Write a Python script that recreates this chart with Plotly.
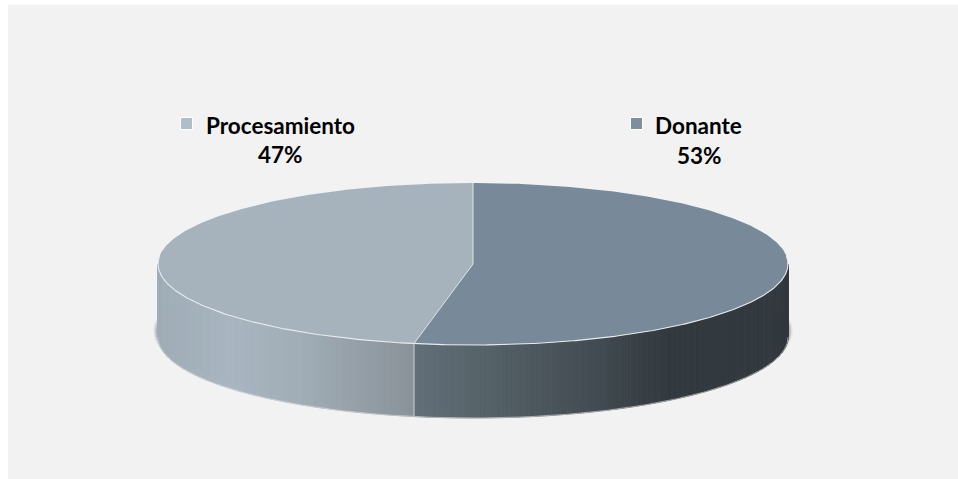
import numpy as np
import plotly.graph_objects as go

categories = ["Donante", "Procesamiento"]
values = [53, 47]
top_colors = ["#788a99", "#a6b3bc"]
marker_colors = ["#7d8f9e", "#b0bec9"]

W, H = 958, 479
CX, CY, RX, RY, DEPTH = 473, 264, 315, 81, 73
# axes: one data unit = RX px horizontally, RY px vertically, origin at pie centre
x_range = [-CX / RX, (W - CX) / RX]
y_range = [(CY - H) / RY, CY / RY]
D = DEPTH / RY

side_stops = {
    "Donante": [(0.0, "#626f79"), (0.18, "#566369"), (0.5, "#414a50"), (0.68, "#32393f"), (1.0, "#32393f")],
    "Procesamiento": [(0.0, "#9fadb7"), (0.28, "#a9b6c1"), (0.55, "#a1aeb7"), (1.0, "#8a9299")],
}


def hex2rgb(h):
    return np.array([int(h[i:i + 2], 16) for i in (1, 3, 5)], float)


def grad(stops, t):
    ts = [s[0] for s in stops]
    rgb = [hex2rgb(s[1]) for s in stops]
    c = [np.interp(t, ts, [v[i] for v in rgb]) for i in range(3)]
    return "rgb(%d,%d,%d)" % tuple(round(v) for v in c)


def pt(deg):
    r = np.radians(deg)
    return np.sin(r), np.cos(r)


fig = go.Figure()

# soft shadow under the disc
a = np.radians(np.linspace(0, 360, 361))
for grow, alpha in [(5, 0.05), (4, 0.08), (3, 0.12), (2, 0.16), (1, 0.2)]:
    sx = (RX + grow) / RX * np.sin(a)
    sy = (RY + grow * 0.3) / RY * np.cos(a) - D + 6 / RY
    fig.add_trace(go.Scatter(x=sx, y=sy, mode="lines", fill="toself", line=dict(width=0),
                             fillcolor=f"rgba(70,70,70,{alpha})", hoverinfo="skip"))

# slice angles, clockwise from 12 o'clock
total = sum(values)
edges = np.cumsum([0] + values) / total * 360
STEP = 0.6
for name, v0, v1, col in zip(categories, edges[:-1], edges[1:], top_colors):
    lo, hi = max(v0, 90), min(v1, 270)
    th = np.arange(lo, hi + STEP, STEP)
    th[-1] = hi
    xa, xb = np.sin(np.radians(lo)), np.sin(np.radians(hi))
    for t0, t1 in zip(th[:-1], th[1:]):
        x0, y0 = pt(t0)
        x1, y1 = pt(t1)
        f = ((x0 + x1) / 2 - min(xa, xb)) / abs(xb - xa)
        c = grad(side_stops[name], f)
        fig.add_trace(go.Scatter(x=[x0, x1, x1, x0, x0], y=[y0, y1, y1 - D, y0 - D, y0], mode="lines",
                                 fill="toself", fillcolor=c, line=dict(color=c, width=0.8), hoverinfo="skip"))

# bottom rim highlight
th = np.radians(np.linspace(90, 270, 361))
fig.add_trace(go.Scatter(x=np.sin(th), y=np.cos(th) - D, mode="lines",
                         line=dict(color="rgba(225,225,225,0.75)", width=0.8), hoverinfo="skip"))

# top faces
for name, v0, v1, col in zip(categories, edges[:-1], edges[1:], top_colors):
    th = np.radians(np.linspace(v0, v1, 300))
    fig.add_trace(go.Scatter(x=np.r_[0, np.sin(th), 0], y=np.r_[0, np.cos(th), 0], mode="lines", fill="toself",
                             fillcolor=col, line=dict(width=0), hoverinfo="skip", name=name))

# white edges
th = np.radians(np.linspace(84, 276, 400))
fig.add_trace(go.Scatter(x=np.sin(th), y=np.cos(th), mode="lines", line=dict(color="#e8ecee", width=1.1), hoverinfo="skip"))
for e in edges[:-1]:
    ex, ey = pt(e)
    fig.add_trace(go.Scatter(x=[0, ex], y=[0, ey], mode="lines", line=dict(color="#dfe4e7", width=1), hoverinfo="skip"))
    if ey < 0:
        fig.add_trace(go.Scatter(x=[ex, ex], y=[ey, ey - D], mode="lines", line=dict(color="#c9ced2", width=1), hoverinfo="skip"))

# labels
px = lambda x: (x - CX) / RX
py = lambda y: (CY - y) / RY
label_pos = {"Donante": (698, 125, 699, 155, 636.5), "Procesamiento": (280.5, 125, 280.5, 154, 186.5)}
for name, v, mc in zip(categories, values, marker_colors):
    nx, ny, vx, vy, mx = label_pos[name]
    fig.add_trace(go.Scatter(x=[px(mx)], y=[py(123.5)], mode="markers", hoverinfo="skip",
                             marker=dict(symbol="square", size=12, color=mc, line=dict(color="#ffffff", width=1))))
    fig.add_annotation(x=px(nx), y=py(ny), text=f"<b>{name}</b>", showarrow=False,
                       font=dict(family="Lato", size=22.5, color="#000000"))
    fig.add_annotation(x=px(vx), y=py(vy), text=f"<b>{v}%</b>", showarrow=False,
                       font=dict(family="Lato", size=22.5, color="#000000"))

fig.update_layout(
    width=W, height=H, margin=dict(l=0, r=0, t=0, b=0), showlegend=False,
    paper_bgcolor="#ffffff", plot_bgcolor="rgba(0,0,0,0)",
    xaxis=dict(range=x_range, visible=False, fixedrange=True),
    yaxis=dict(range=y_range, visible=False, fixedrange=True),
    shapes=[dict(type="rect", xref="paper", yref="paper", layer="below", x0=8 / W, x1=1,
                 y0=0, y1=1 - 5 / H, fillcolor="#f2f2f2", line=dict(width=0))],
)
fig.write_html("out.html", config={"displayModeBar": False},
               post_script="document.body.style.margin='0';document.documentElement.style.overflow='hidden';")
